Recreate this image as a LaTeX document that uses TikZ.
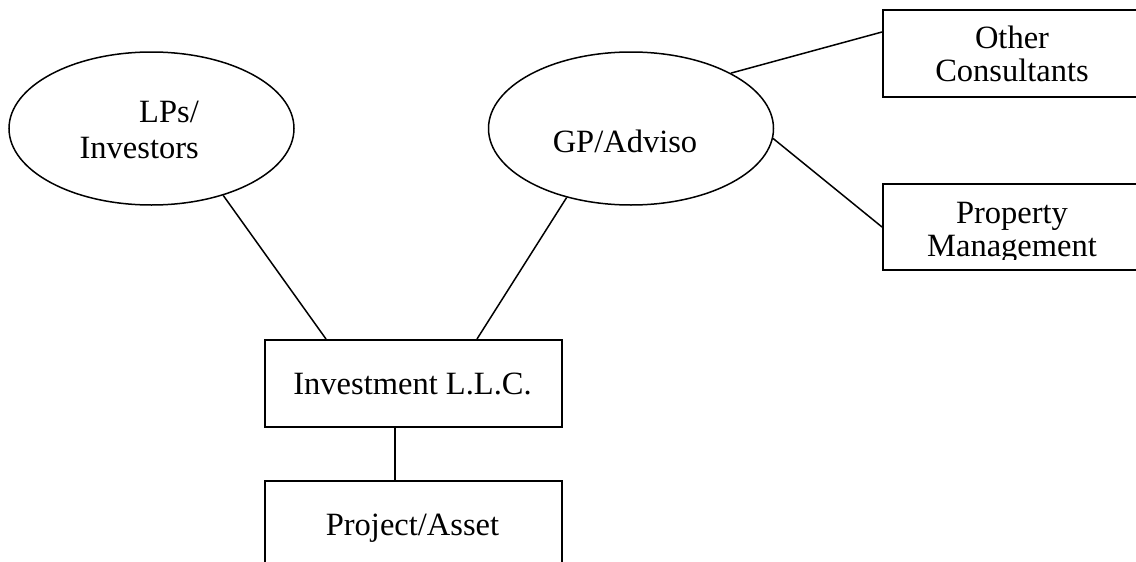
\documentclass[tikz,border=0pt]{standalone}
\usepackage{fontspec}
\setmainfont{Liberation Serif}
\usetikzlibrary{shapes.geometric}
\tikzset{
  oval/.style={ellipse, draw, line width=1.5pt, inner sep=0pt, minimum width=285pt, minimum height=153pt},
  box/.style={rectangle, draw, line width=1.8pt, inner sep=0pt, anchor=north west},
  link/.style={line width=1.5pt},
  lbl/.style={inner sep=0pt, font=\fontsize{32.5}{34}\selectfont},
}
\begin{document}
\begin{tikzpicture}[x=1pt,y=-1pt]
\useasboundingbox (0,0) rectangle (1136,562);
\clip (0,0) rectangle (1136,562);
% shapes
\node[oval] (lps) at (151.5,128.5) {};
\node[oval] (gp) at (631,128.5) {};
\node[box, minimum width=260pt, minimum height=87pt] (oth) at (882,9) {};
\node[box, minimum width=260pt, minimum height=86pt] (prop) at (882,183) {};
\node[box, minimum width=297pt, minimum height=87pt] (inv) at (264,339) {};
\node[box, minimum width=297pt, minimum height=120pt] (proj) at (264,480) {};
% texts
\node[lbl, anchor=base east] (lpsA) at (199,122) {LPs/};
\node[lbl, anchor=base east] (lpsB) at (199,158) {Investors};
\node[lbl, anchor=base] (gpT) at (625,152) {GP/Adviso};
\node[lbl, anchor=base] (othA) at (1012,48) {Other};
\node[lbl, anchor=base] (othB) at (1012,81) {Consultants};
\begin{scope}
\clip (882,183) rectangle (1142,259);
\node[lbl, anchor=base] (propA) at (1012,223) {Property};
\node[lbl, anchor=base] (propB) at (1012,256) {Management};
\end{scope}
\node[lbl, anchor=base] (invT) at (412.5,394) {Investment L.L.C.};
\node[lbl, anchor=base] (projT) at (412.5,535) {Project/Asset};
% connectors
\draw[link] (lps.-43) -- ([xshift=62pt]inv.north west);
\draw[link] (gp.-133.6) -- ([xshift=213pt]inv.north west);
\draw[link] (gp.29) -- ([yshift=-23pt]oth.north west);
\draw[link] (gp.-4.6) -- ([yshift=-44pt]prop.north west);
\draw[link] ([xshift=131pt]inv.south west) -- ([xshift=131pt]proj.north west);
\end{tikzpicture}
\end{document}
